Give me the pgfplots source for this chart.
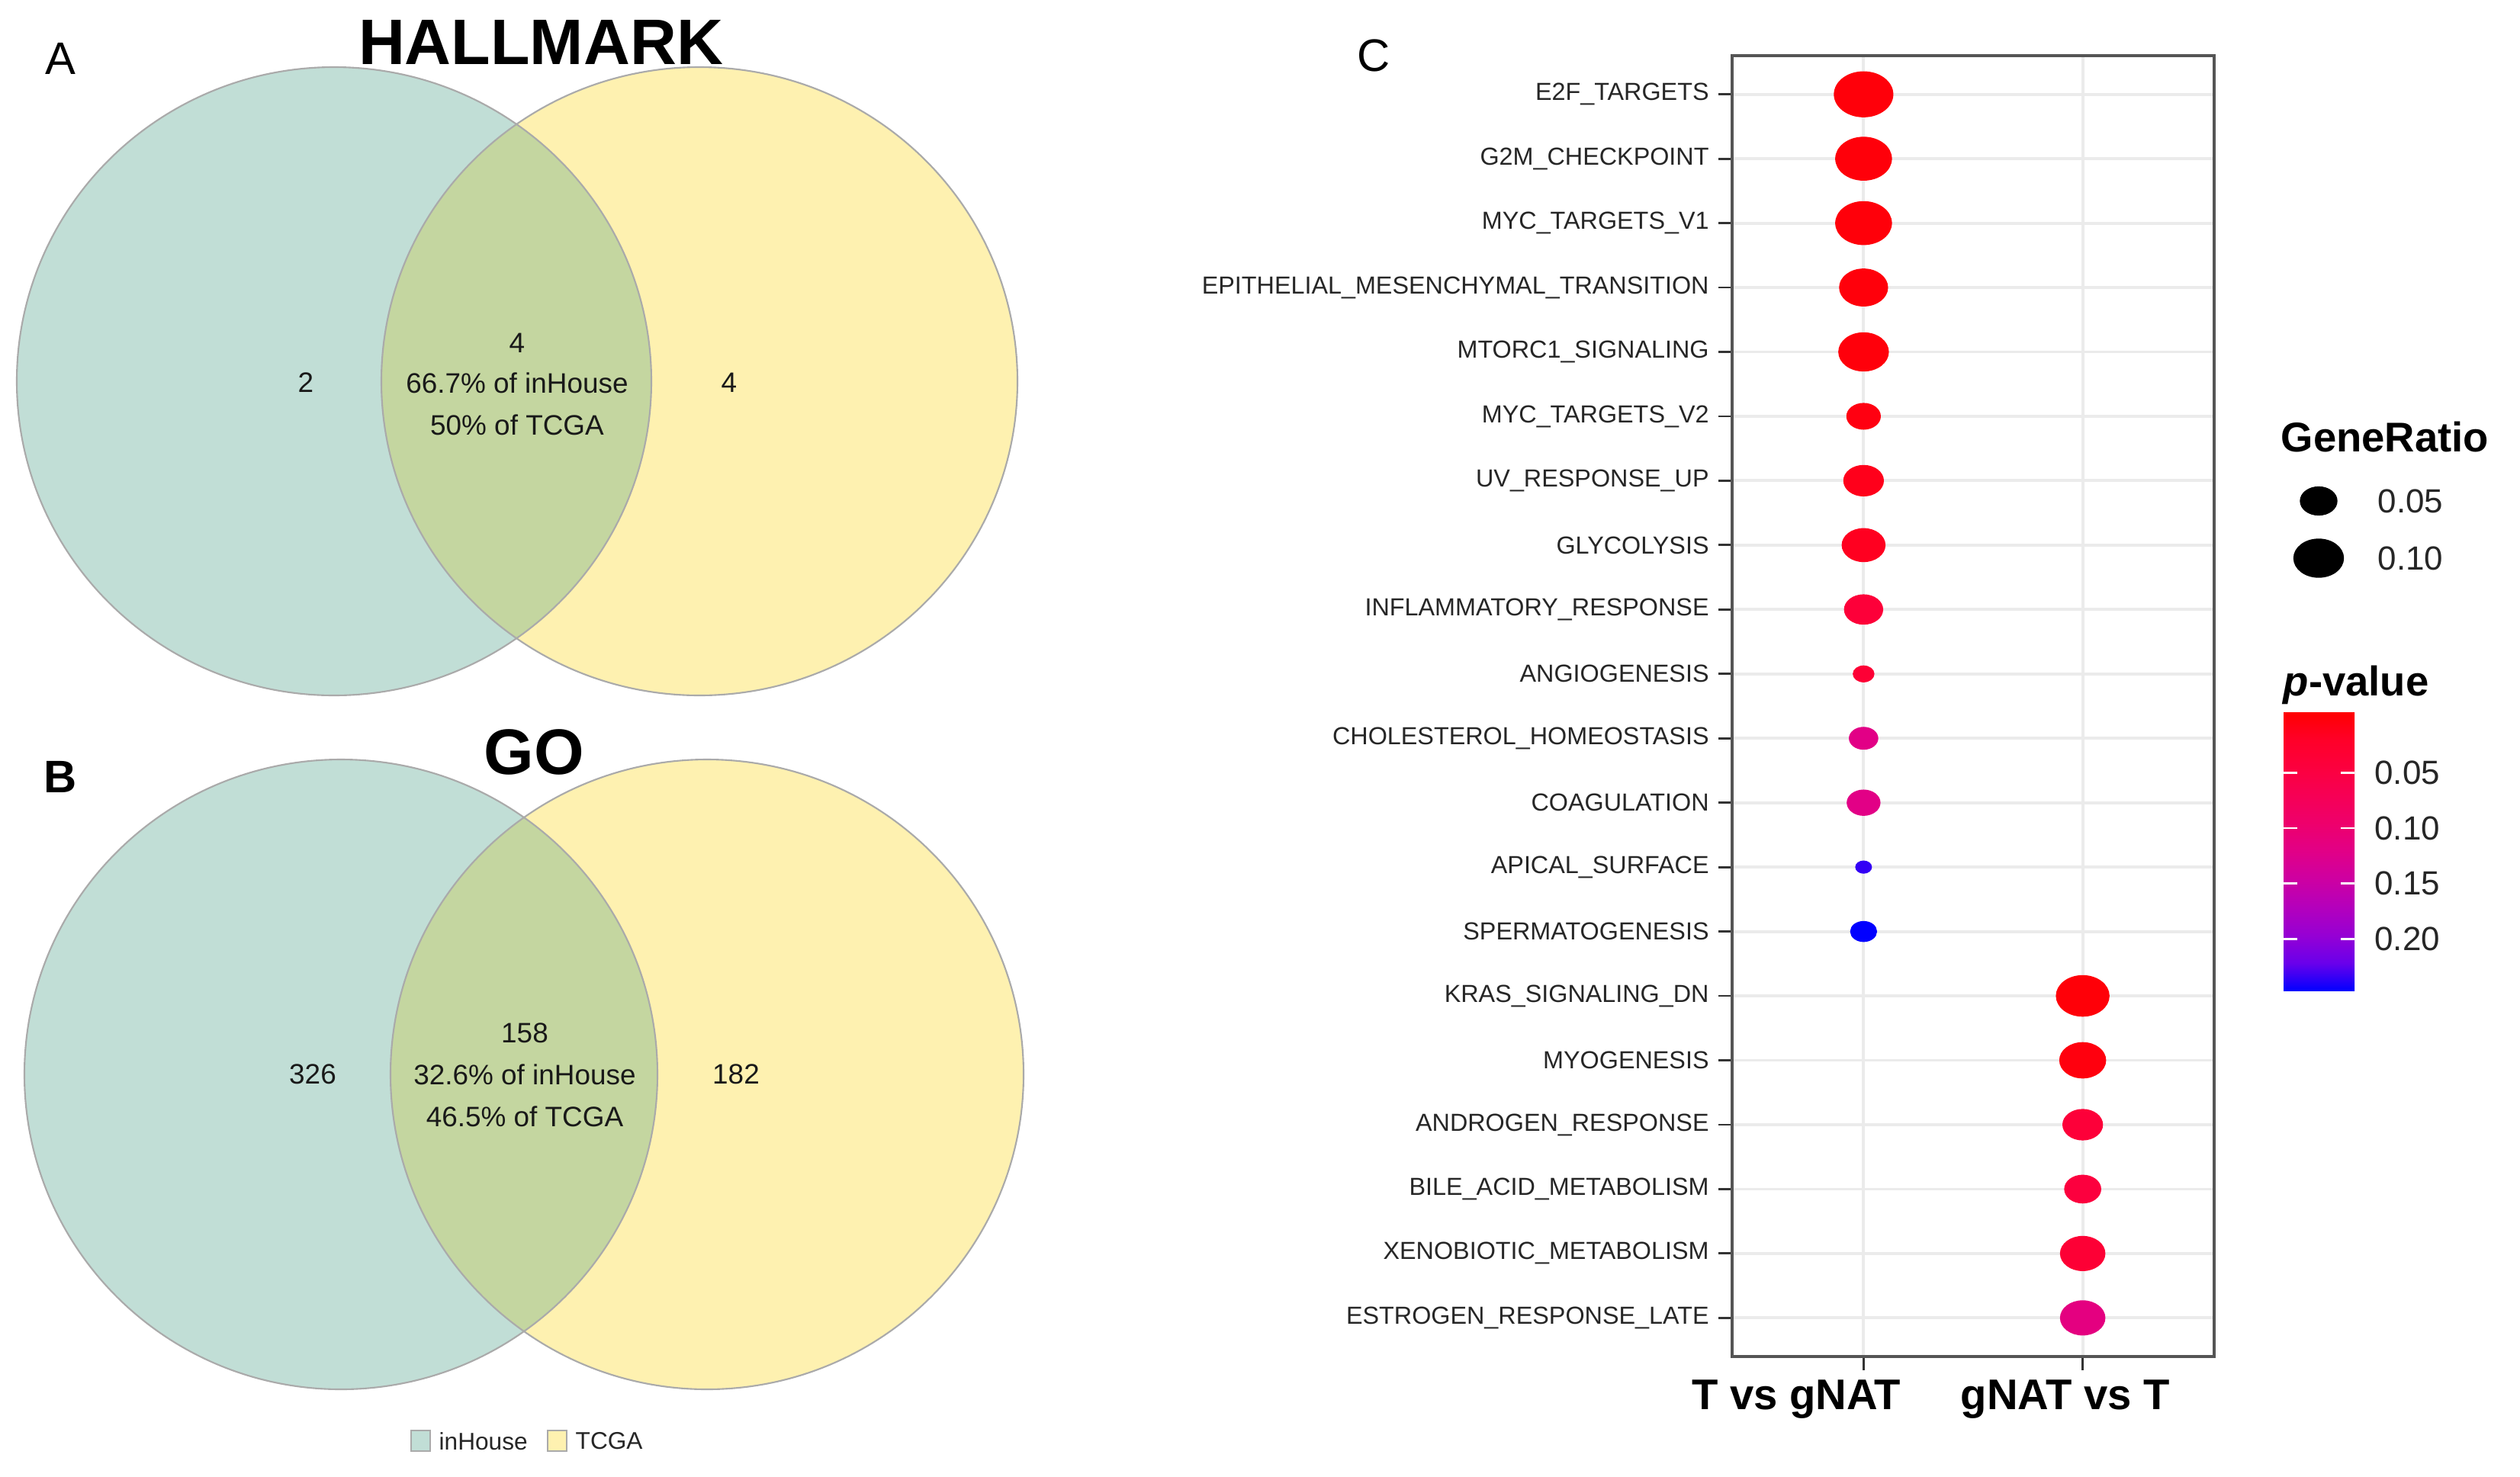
\documentclass[border=0pt]{standalone}
\usepackage{pgfplots}
\pgfplotsset{compat=1.18}
\usepackage{pgfplotstable}
\usepackage{fontspec}
\setmainfont{Liberation Sans}
\newcommand{\fs}[1]{\fontsize{#1}{#1}\selectfont}
\definecolor{vennA}{RGB}{193,222,214}
\definecolor{vennB}{RGB}{254,241,176}
\definecolor{vennAB}{RGB}{196,214,160}
\definecolor{vennEdge}{RGB}{170,170,170}
\definecolor{gridgray}{RGB}{235,235,235}
\definecolor{framegray}{RGB}{85,85,85}

% id = row (top to bottom), x = 1: T vs gNAT, 2: gNAT vs T
\pgfplotstableread{
id x ratio p
1  1 0.143 0.001
2  1 0.129 0.001
3  1 0.129 0.001
4  1 0.093 0.002
5  1 0.100 0.002
6  1 0.040 0.006
7  1 0.060 0.012
8  1 0.072 0.015
9  1 0.055 0.040
10 1 0.009 0.035
11 1 0.026 0.120
12 1 0.038 0.120
13 1 0.001 0.235
14 1 0.020 0.247
15 2 0.114 0.000
16 2 0.084 0.004
17 2 0.060 0.040
18 2 0.048 0.045
19 2 0.078 0.035
20 2 0.078 0.115
}\dotdata

\begin{document}
\begin{tikzpicture}
% ---------- overlay axis: Venn diagrams and GeneRatio legend ----------
\begin{axis}[at={(0,0)}, anchor=south west, scale only axis,
  width=33.04cm, height=19.36cm,
  xmin=0, xmax=3304, ymin=0, ymax=1936, y dir=reverse,
  hide axis, clip=false]
  % Panel A
  \fill[vennA] (axis cs:438,500) ellipse (4.16cm and 4.12cm);
  \fill[vennB] (axis cs:917,500) ellipse (4.17cm and 4.12cm);
  \begin{scope}
    \clip (axis cs:438,500) ellipse (4.16cm and 4.12cm);
    \fill[vennAB] (axis cs:917,500) ellipse (4.17cm and 4.12cm);
  \end{scope}
  \draw[vennEdge, line width=0.6pt] (axis cs:438,500) ellipse (4.16cm and 4.12cm);
  \draw[vennEdge, line width=0.6pt] (axis cs:917,500) ellipse (4.17cm and 4.12cm);
  \node[font=\fs{17}] at (axis cs:79,77) {A};
  \node[font=\fs{24}\bfseries] at (axis cs:709,55) {HALLMARK};
  \node[font=\fs{10.5}, text=black!90] at (axis cs:401,502) {2};
  \node[font=\fs{10.5}, text=black!90] at (axis cs:956,502) {4};
  \node[font=\fs{10.5}, text=black!90] at (axis cs:678,450) {4};
  \node[font=\fs{10.5}, text=black!90] at (axis cs:678,502) {66.7\% of inHouse};
  \node[font=\fs{10.5}, text=black!90] at (axis cs:678,557) {50\% of TCGA};
  % Panel B
  \fill[vennA] (axis cs:447,1409) ellipse (4.15cm and 4.13cm);
  \fill[vennB] (axis cs:927,1409) ellipse (4.15cm and 4.13cm);
  \begin{scope}
    \clip (axis cs:447,1409) ellipse (4.15cm and 4.13cm);
    \fill[vennAB] (axis cs:927,1409) ellipse (4.15cm and 4.13cm);
  \end{scope}
  \draw[vennEdge, line width=0.6pt] (axis cs:447,1409) ellipse (4.15cm and 4.13cm);
  \draw[vennEdge, line width=0.6pt] (axis cs:927,1409) ellipse (4.15cm and 4.13cm);
  \node[font=\fs{17}\bfseries] at (axis cs:79,1019) {B};
  \node[font=\fs{24}\bfseries] at (axis cs:700,986) {GO};
  \node[font=\fs{10.5}, text=black!90] at (axis cs:410,1409) {326};
  \node[font=\fs{10.5}, text=black!90] at (axis cs:965,1409) {182};
  \node[font=\fs{10.5}, text=black!90] at (axis cs:688,1355) {158};
  \node[font=\fs{10.5}, text=black!90] at (axis cs:688,1409) {32.6\% of inHouse};
  \node[font=\fs{10.5}, text=black!90] at (axis cs:688,1464) {46.5\% of TCGA};
  % Venn legend
  \draw[vennEdge, line width=0.4pt, fill=vennA] (axis cs:539,1876) rectangle (axis cs:564,1903);
  \node[font=\fs{9}, anchor=west, inner sep=0pt, text=black!85] at (axis cs:575,1890) {inHouse};
  \draw[vennEdge, line width=0.4pt, fill=vennB] (axis cs:718,1876) rectangle (axis cs:743,1903);
  \node[font=\fs{9}, anchor=west, inner sep=0pt, text=black!85] at (axis cs:754,1890) {TCGA};
  % Panel C labels and GeneRatio legend
  \node[font=\fs{17}] at (axis cs:1801,73) {C};
  \node[font=\fs{15.5}\bfseries, anchor=west, inner sep=0pt] at (axis cs:2990,573) {GeneRatio};
  \addplot[only marks, mark=*, mark size=5.25pt, mark options={xscale=1.3, fill=black, draw=black}]
    coordinates {(3040,657)};
  \addplot[only marks, mark=*, mark size=7.11pt, mark options={xscale=1.3, fill=black, draw=black}]
    coordinates {(3040,732)};
  \node[font=\fs{12.5}, anchor=west, inner sep=0pt, text=black!85] at (axis cs:3117,657) {0.05};
  \node[font=\fs{12.5}, anchor=west, inner sep=0pt, text=black!85] at (axis cs:3117,732) {0.10};
  \node[font=\fs{15.5}\bfseries, anchor=west, inner sep=0pt] at (axis cs:2993,898) {\textit{p}-value};
\end{axis}

% ---------- dot plot ----------
\begin{axis}[at={(22.71cm,18.63cm)}, anchor=north west, scale only axis,
  width=6.32cm, height=17.06cm,
  xmin=0.4, xmax=2.6, ymin=0.4, ymax=20.6, y dir=reverse,
  xtick={1,2},
  xticklabels={{T vs gNAT\hspace*{1.76cm}},{gNAT vs T\hspace*{0.46cm}}},
  ytick={1,...,20},
  yticklabels={E2F\_TARGETS,G2M\_CHECKPOINT,MYC\_TARGETS\_V1,EPITHELIAL\_MESENCHYMAL\_TRANSITION,MTORC1\_SIGNALING,MYC\_TARGETS\_V2,UV\_RESPONSE\_UP,GLYCOLYSIS,INFLAMMATORY\_RESPONSE,ANGIOGENESIS,CHOLESTEROL\_HOMEOSTASIS,COAGULATION,APICAL\_SURFACE,SPERMATOGENESIS,KRAS\_SIGNALING\_DN,MYOGENESIS,ANDROGEN\_RESPONSE,BILE\_ACID\_METABOLISM,XENOBIOTIC\_METABOLISM,ESTROGEN\_RESPONSE\_LATE},
  grid=major, major grid style={color=gridgray, line width=1.1pt},
  axis line style={color=framegray, line width=0.9pt},
  tick style={color=black!80, line width=0.8pt}, tick align=outside,
  major tick length=0.18cm,
  xtick pos=bottom, ytick pos=left,
  yticklabel style={font=\fs{9.2}, text=black!85},
  xticklabel style={font=\fs{16}\bfseries, text=black},
  colormap={pv}{rgb255=(255,0,0) rgb255=(255,0,40) rgb255=(252,0,62) rgb255=(246,0,85) rgb255=(238,0,108) rgb255=(225,0,135) rgb255=(205,0,162) rgb255=(180,0,188) rgb255=(150,0,212) rgb255=(105,0,235) rgb255=(0,0,255)},
  point meta min=-0.005, point meta max=0.247,
  colorbar,
  colorbar/width=0.93cm,
  colorbar style={at={(parent axis.north east)}, anchor=north west,
    xshift=0.61cm, yshift=-8.60cm, scale only axis,
    width=0.93cm, height=3.67cm, y dir=reverse,
    ytick={0.05,0.10,0.15,0.20}, yticklabels={0.05,0.10,0.15,0.20},
    ytick pos=both, yticklabel pos=right,
    tick align=inside, major tick length=0.18cm,
    tick style={draw=white, color=white, line width=0.8pt},
    major tick style={draw=white, color=white, line width=0.8pt},
    axis line style={draw=none},
    yticklabel style={font=\fs{12.5}, text=black!85, xshift=4pt}},
]
\addplot[scatter, only marks, mark=*, scatter src=explicit,
  mark options={xscale=1.3},
  scatter/use mapped color={draw=mapped color, fill=mapped color},
  visualization depends on={0.10942*sqrt(383+38420*\thisrow{ratio}) \as \msize},
  scatter/@pre marker code/.append style={/tikz/mark size=\msize}]
  table[x=x, y=id, meta=p] {\dotdata};
\end{axis}
\pgfresetboundingbox
\path[use as bounding box] (0,0) rectangle (33.04cm,19.36cm);
\end{tikzpicture}
\end{document}
